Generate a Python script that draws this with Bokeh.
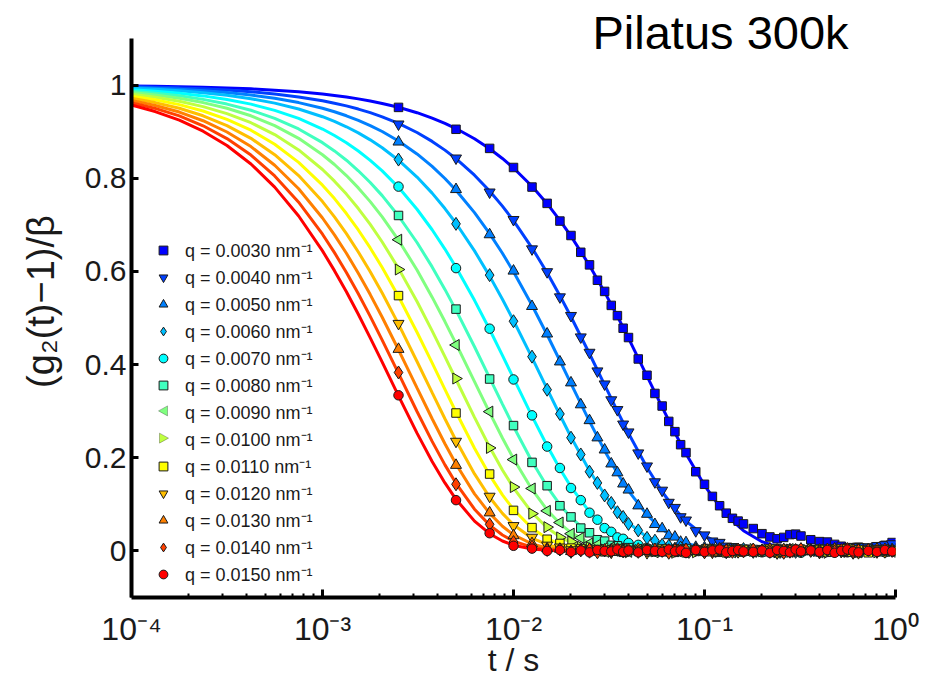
import math
from bokeh.plotting import figure
from bokeh.models import (Range1d, FixedTicker, NumeralTickFormatter, Label, Legend, LegendItem,
                          PolyAnnotation)
from bokeh.embed import file_html
from bokeh.resources import INLINE

# ---------------- data ----------------
q_labels = ["0.0030", "0.0040", "0.0050", "0.0060", "0.0070", "0.0080", "0.0090",
            "0.0100", "0.0110", "0.0120", "0.0130", "0.0140", "0.0150"]

# lag times of the measured points (s)
lag_t = [0.0025, 0.005, 0.0075, 0.01, 0.0125, 0.015, 0.0175, 0.02,
         0.0225, 0.025, 0.0275, 0.03, 0.0325, 0.035, 0.0375, 0.04,
         0.045, 0.05, 0.055, 0.06, 0.065, 0.07, 0.075, 0.08,
         0.09, 0.1, 0.11, 0.12, 0.13, 0.14, 0.15, 0.16,
         0.18, 0.2, 0.22, 0.24, 0.26, 0.28, 0.3, 0.32,
         0.36, 0.4, 0.44, 0.48, 0.52, 0.56, 0.6, 0.64,
         0.72, 0.8, 0.88, 0.96]

# times at which the fit curves were read (s)
fit_t = [0.0001, 0.000133, 0.000178, 0.000237, 0.000316, 0.000422, 0.000562, 0.00075,
         0.001, 0.001155, 0.001334, 0.00154, 0.001778, 0.002054, 0.0025, 0.003125,
         0.00375, 0.004375, 0.005, 0.00625, 0.0075, 0.00875, 0.01, 0.0125,
         0.015, 0.0175, 0.02, 0.025, 0.03, 0.035, 0.04, 0.05,
         0.06, 0.07, 0.08, 0.1, 0.12, 0.14, 0.16, 0.2,
         0.24, 0.28, 0.32, 0.4, 0.48, 0.64, 0.8, 1.0]

data_q0030 = [0.952, 0.905, 0.864, 0.823, 0.781, 0.746, 0.708, 0.677,
              0.641, 0.614, 0.581, 0.557, 0.527, 0.505, 0.478, 0.458,
              0.412, 0.377, 0.338, 0.311, 0.278, 0.256, 0.228, 0.211,
              0.170, 0.143, 0.117, 0.097, 0.081, 0.070, 0.064, 0.058,
              0.048, 0.037, 0.030, 0.026, 0.029, 0.035, 0.036, 0.032,
              0.024, 0.020, 0.019, 0.014, 0.010, 0.007, 0.006, 0.008,
              0.006, 0.009, 0.012, 0.018]
data_q0040 = [0.916, 0.843, 0.770, 0.711, 0.648, 0.599, 0.545, 0.505,
              0.459, 0.426, 0.386, 0.358, 0.324, 0.303, 0.272, 0.255,
              0.210, 0.182, 0.148, 0.130, 0.104, 0.093, 0.073, 0.066,
              0.043, 0.034, 0.021, 0.018, 0.010, 0.009, 0.004, 0.006,
              0.003, 0.005, 0.001, 0.004, 0.006, 0.002, 0.005, 0.003,
              0.004, 0.001, 0.006, 0.003, 0.002, 0.007, 0.004, 0.009,
              0.008, 0.011, 0.013, 0.015]
data_q0050 = [0.878, 0.776, 0.679, 0.601, 0.525, 0.466, 0.406, 0.361,
              0.314, 0.280, 0.243, 0.217, 0.187, 0.168, 0.144, 0.131,
              0.097, 0.079, 0.057, 0.048, 0.033, 0.030, 0.019, 0.018,
              0.008, 0.007, 0.002, 0.004, -0.002, 0.003, 0.001, -0.003,
              0.002, -0.001, 0.004, 0.000, -0.003, 0.003, 0.001, -0.002,
              0.002, -0.004, 0.001, 0.003, -0.002, 0.000, 0.004, -0.001,
              0.002, -0.003, 0.001, 0.003]
data_q0060 = [0.840, 0.702, 0.592, 0.493, 0.417, 0.346, 0.294, 0.243,
              0.207, 0.170, 0.146, 0.119, 0.103, 0.083, 0.073, 0.058,
              0.044, 0.028, 0.022, 0.013, 0.011, 0.005, 0.007, 0.002,
              0.004, -0.002, 0.001, 0.003, -0.003, 0.002, -0.001, 0.004,
              -0.002, 0.001, 0.003, -0.004, 0.002, 0.000, -0.002, 0.003,
              0.001, -0.003, 0.002, 0.004, -0.001, 0.002, -0.004, 0.001,
              0.003, -0.002, 0.000, 0.002]
data_q0070 = [0.782, 0.607, 0.477, 0.368, 0.291, 0.224, 0.178, 0.135,
              0.109, 0.082, 0.067, 0.049, 0.041, 0.029, 0.026, 0.017,
              0.013, 0.006, 0.005, 0.001, -0.002, 0.003, 0.000, -0.003,
              0.002, 0.004, -0.001, 0.001, -0.004, 0.002, 0.003, -0.002,
              0.001, -0.003, 0.002, 0.004, -0.001, 0.000, 0.003, -0.004,
              0.002, 0.000, -0.002, 0.003, 0.001, -0.003, 0.002, 0.004,
              -0.001, 0.002, -0.003, 0.001]
data_q0080 = [0.720, 0.519, 0.369, 0.269, 0.190, 0.140, 0.097, 0.073,
              0.049, 0.039, 0.024, 0.021, 0.012, 0.011, 0.005, 0.007,
              0.002, 0.004, -0.002, 0.003, 0.000, -0.003, 0.002, 0.005,
              -0.001, 0.002, 0.004, -0.003, 0.001, 0.003, -0.002, 0.000,
              0.003, -0.002, 0.001, 0.004, -0.004, 0.002, 0.000, -0.001,
              0.002, 0.004, -0.003, 0.001, 0.003, -0.001, 0.002, -0.004,
              0.001, 0.003, -0.002, 0.002]
data_q0090 = [0.668, 0.442, 0.299, 0.196, 0.134, 0.086, 0.061, 0.037,
              0.028, 0.016, 0.013, 0.006, 0.007, 0.001, 0.004, -0.002,
              0.003, 0.000, -0.003, 0.004, 0.002, -0.001, 0.003, -0.004,
              0.001, 0.003, -0.002, 0.000, 0.004, -0.003, 0.002, 0.001,
              -0.002, 0.003, 0.001, -0.004, 0.002, 0.004, -0.001, 0.002,
              0.000, -0.003, 0.003, 0.001, -0.002, 0.004, 0.001, -0.003,
              0.002, 0.000, 0.003, -0.002]
data_q0100 = [0.604, 0.370, 0.221, 0.137, 0.080, 0.051, 0.029, 0.020,
              0.009, 0.008, 0.002, 0.003, -0.002, 0.004, 0.001, -0.003,
              0.002, 0.004, -0.001, 0.000, 0.003, -0.004, 0.002, 0.001,
              -0.003, 0.002, 0.004, -0.001, 0.001, -0.002, 0.003, 0.000,
              0.004, -0.001, 0.002, -0.003, 0.000, 0.003, -0.002, 0.001,
              0.003, 0.000, -0.004, 0.002, 0.001, -0.001, 0.004, -0.002,
              0.001, -0.003, 0.002, 0.000]
data_q0110 = [0.548, 0.296, 0.165, 0.087, 0.050, 0.025, 0.016, 0.006,
              0.005, 0.001, 0.003, -0.002, 0.002, 0.004, -0.003, 0.001,
              -0.001, 0.003, 0.000, 0.004, -0.002, 0.001, 0.003, -0.004,
              0.002, -0.001, 0.003, 0.001, -0.004, 0.002, 0.000, 0.003,
              -0.002, 0.001, 0.004, -0.003, 0.002, 0.000, -0.001, 0.003,
              0.001, 0.003, -0.002, 0.000, 0.004, -0.003, 0.001, 0.002,
              -0.004, 0.002, 0.001, -0.001]
data_q0120 = [0.488, 0.235, 0.117, 0.054, 0.029, 0.012, 0.008, 0.002,
              0.003, -0.002, 0.004, 0.001, -0.003, 0.002, 0.000, 0.003,
              0.001, -0.004, 0.002, 0.003, -0.001, 0.000, 0.004, -0.002,
              0.003, 0.001, -0.003, 0.002, 0.000, 0.004, -0.002, 0.001,
              -0.001, 0.002, 0.003, -0.004, 0.001, -0.002, 0.004, 0.000,
              0.002, -0.003, 0.001, 0.003, -0.001, 0.002, 0.000, -0.004,
              0.003, 0.001, -0.002, 0.002]
data_q0130 = [0.433, 0.184, 0.082, 0.033, 0.016, 0.005, 0.004, -0.001,
              0.002, 0.004, -0.002, 0.001, 0.003, -0.003, 0.002, 0.000,
              0.004, -0.001, 0.001, -0.003, 0.002, 0.003, -0.002, 0.001,
              0.000, 0.003, -0.004, 0.002, 0.001, -0.001, 0.003, -0.002,
              0.002, 0.000, 0.004, -0.002, 0.003, 0.001, -0.003, 0.002,
              -0.001, 0.002, 0.000, 0.004, -0.003, 0.001, 0.002, -0.002,
              0.001, 0.004, -0.001, 0.000]
data_q0140 = [0.383, 0.143, 0.057, 0.019, 0.009, 0.002, 0.003, -0.002,
              0.001, 0.003, -0.003, 0.002, 0.000, 0.004, -0.001, 0.002,
              -0.002, 0.001, 0.003, 0.000, -0.004, 0.002, 0.001, 0.003,
              0.002, -0.003, 0.000, 0.004, 0.001, -0.002, 0.003, -0.001,
              0.003, 0.001, -0.002, 0.002, -0.004, 0.000, 0.002, 0.004,
              0.000, -0.002, 0.003, -0.001, 0.002, 0.004, -0.003, 0.001,
              0.002, -0.001, 0.003, 0.000]
data_q0150 = [0.334, 0.109, 0.038, 0.011, 0.005, 0.000, 0.002, -0.002,
              0.001, -0.003, 0.002, 0.000, -0.001, 0.003, -0.002, 0.001,
              -0.003, 0.002, 0.000, -0.002, 0.003, -0.001, 0.001, -0.004,
              0.002, -0.002, 0.001, 0.003, -0.003, 0.000, 0.002, -0.001,
              -0.002, 0.001, -0.004, 0.002, 0.000, -0.003, 0.003, -0.001,
              0.001, -0.002, 0.002, -0.004, 0.000, 0.003, -0.001, -0.003,
              0.000, -0.002, 0.002, -0.001]

fit_q0030 = [0.9980, 0.9974, 0.9965, 0.9954, 0.9938, 0.9918, 0.9890, 0.9854,
             0.9806, 0.9776, 0.9742, 0.9703, 0.9657, 0.9605, 0.9522, 0.9406,
             0.9291, 0.9178, 0.9066, 0.8847, 0.8633, 0.8424, 0.8220, 0.7827,
             0.7453, 0.7096, 0.6757, 0.6126, 0.5554, 0.5036, 0.4566, 0.3753,
             0.3085, 0.2536, 0.2085, 0.1409, 0.0952, 0.0643, 0.0434, 0.0198,
             0.0091, 0.0041, 0.0019, 0.0004, 0.0001, 0.0, 0.0, 0.0]
fit_q0040 = [0.9966, 0.9954, 0.9939, 0.9919, 0.9892, 0.9856, 0.9808, 0.9745,
             0.9662, 0.9610, 0.9552, 0.9484, 0.9407, 0.9318, 0.9176, 0.8981,
             0.8790, 0.8603, 0.8420, 0.8065, 0.7726, 0.7401, 0.7089, 0.6505,
             0.5969, 0.5477, 0.5026, 0.4232, 0.3563, 0.3000, 0.2526, 0.1791,
             0.1270, 0.0900, 0.0638, 0.0321, 0.0161, 0.0081, 0.0041, 0.0010,
             0.0003, 0.0001, 0.0, 0.0, 0.0, 0.0, 0.0, 0.0]
fit_q0050 = [0.9949, 0.9932, 0.9909, 0.9879, 0.9839, 0.9786, 0.9716, 0.9623,
             0.9501, 0.9426, 0.9340, 0.9242, 0.9130, 0.9002, 0.8799, 0.8521,
             0.8253, 0.7993, 0.7741, 0.7261, 0.6811, 0.6389, 0.5993, 0.5273,
             0.4640, 0.4082, 0.3592, 0.2780, 0.2152, 0.1666, 0.1290, 0.0773,
             0.0463, 0.0278, 0.0166, 0.0060, 0.0021, 0.0008, 0.0003, 0.0,
             0.0, 0.0, 0.0, 0.0, 0.0, 0.0, 0.0, 0.0]
fit_q0060 = [0.9930, 0.9907, 0.9876, 0.9834, 0.9780, 0.9707, 0.9612, 0.9486,
             0.9320, 0.9219, 0.9104, 0.8973, 0.8823, 0.8654, 0.8386, 0.8025,
             0.7680, 0.7349, 0.7033, 0.6440, 0.5898, 0.5401, 0.4946, 0.4148,
             0.3478, 0.2917, 0.2446, 0.1720, 0.1210, 0.0851, 0.0598, 0.0296,
             0.0146, 0.0072, 0.0036, 0.0009, 0.0002, 0.0, 0.0, 0.0,
             0.0, 0.0, 0.0, 0.0, 0.0, 0.0, 0.0, 0.0]
fit_q0070 = [0.9901, 0.9869, 0.9825, 0.9767, 0.9691, 0.9590, 0.9457, 0.9283,
             0.9056, 0.8917, 0.8761, 0.8583, 0.8383, 0.8157, 0.7804, 0.7334,
             0.6894, 0.6479, 0.6090, 0.5379, 0.4752, 0.4198, 0.3708, 0.2894,
             0.2258, 0.1762, 0.1375, 0.0837, 0.0510, 0.0311, 0.0189, 0.0070,
             0.0026, 0.0010, 0.0004, 0.0, 0.0, 0.0, 0.0, 0.0,
             0.0, 0.0, 0.0, 0.0, 0.0, 0.0, 0.0, 0.0]
fit_q0080 = [0.9869, 0.9826, 0.9768, 0.9692, 0.9591, 0.9459, 0.9285, 0.9057,
             0.8763, 0.8586, 0.8386, 0.8160, 0.7908, 0.7626, 0.7189, 0.6620,
             0.6096, 0.5613, 0.5169, 0.4382, 0.3716, 0.3151, 0.2671, 0.1920,
             0.1381, 0.0993, 0.0714, 0.0369, 0.0191, 0.0099, 0.0051, 0.0014,
             0.0004, 0.0, 0.0, 0.0, 0.0, 0.0, 0.0, 0.0,
             0.0, 0.0, 0.0, 0.0, 0.0, 0.0, 0.0, 0.0]
fit_q0090 = [0.9839, 0.9786, 0.9716, 0.9623, 0.9501, 0.9340, 0.9129, 0.8856,
             0.8504, 0.8294, 0.8057, 0.7792, 0.7497, 0.7170, 0.6670, 0.6028,
             0.5447, 0.4923, 0.4449, 0.3633, 0.2967, 0.2423, 0.1979, 0.1320,
             0.0880, 0.0587, 0.0392, 0.0174, 0.0078, 0.0035, 0.0015, 0.0003,
             0.0, 0.0, 0.0, 0.0, 0.0, 0.0, 0.0, 0.0,
             0.0, 0.0, 0.0, 0.0, 0.0, 0.0, 0.0, 0.0]
fit_q0100 = [0.9802, 0.9737, 0.9651, 0.9537, 0.9387, 0.9191, 0.8936, 0.8607,
             0.8187, 0.7937, 0.7659, 0.7349, 0.7007, 0.6631, 0.6065, 0.5353,
             0.4724, 0.4169, 0.3679, 0.2865, 0.2231, 0.1738, 0.1353, 0.0821,
             0.0498, 0.0302, 0.0183, 0.0067, 0.0025, 0.0009, 0.0003, 0.0,
             0.0, 0.0, 0.0, 0.0, 0.0, 0.0, 0.0, 0.0,
             0.0, 0.0, 0.0, 0.0, 0.0, 0.0, 0.0, 0.0]
fit_q0110 = [0.9761, 0.9683, 0.9579, 0.9442, 0.9263, 0.9030, 0.8728, 0.8340,
             0.7851, 0.7562, 0.7242, 0.6889, 0.6503, 0.6083, 0.5461, 0.4694,
             0.4035, 0.3469, 0.2982, 0.2203, 0.1628, 0.1203, 0.0889, 0.0486,
             0.0265, 0.0145, 0.0079, 0.0024, 0.0007, 0.0002, 0.0, 0.0,
             0.0, 0.0, 0.0, 0.0, 0.0, 0.0, 0.0, 0.0,
             0.0, 0.0, 0.0, 0.0, 0.0, 0.0, 0.0, 0.0]
fit_q0120 = [0.9716, 0.9623, 0.9501, 0.9340, 0.9129, 0.8856, 0.8505, 0.8057,
             0.7498, 0.7170, 0.6811, 0.6417, 0.5992, 0.5535, 0.4868, 0.4066,
             0.3396, 0.2837, 0.2369, 0.1653, 0.1153, 0.0805, 0.0561, 0.0273,
             0.0133, 0.0065, 0.0032, 0.0007, 0.0002, 0.0, 0.0, 0.0,
             0.0, 0.0, 0.0, 0.0, 0.0, 0.0, 0.0, 0.0,
             0.0, 0.0, 0.0, 0.0, 0.0, 0.0, 0.0, 0.0]
fit_q0130 = [0.9670, 0.9562, 0.9420, 0.9234, 0.8992, 0.8679, 0.8279, 0.7773,
             0.7146, 0.6784, 0.6389, 0.5961, 0.5502, 0.5015, 0.4317, 0.3499,
             0.2837, 0.2299, 0.1864, 0.1225, 0.0805, 0.0529, 0.0347, 0.0150,
             0.0065, 0.0028, 0.0012, 0.0002, 0.0, 0.0, 0.0, 0.0,
             0.0, 0.0, 0.0, 0.0, 0.0, 0.0, 0.0, 0.0,
             0.0, 0.0, 0.0, 0.0, 0.0, 0.0, 0.0, 0.0]
fit_q0140 = [0.9621, 0.9499, 0.9337, 0.9125, 0.8851, 0.8498, 0.8049, 0.7486,
             0.6798, 0.6403, 0.5977, 0.5519, 0.5034, 0.4526, 0.3810, 0.2993,
             0.2351, 0.1847, 0.1451, 0.0896, 0.0553, 0.0341, 0.0211, 0.0080,
             0.0031, 0.0012, 0.0004, 0.0, 0.0, 0.0, 0.0, 0.0,
             0.0, 0.0, 0.0, 0.0, 0.0, 0.0, 0.0, 0.0,
             0.0, 0.0, 0.0, 0.0, 0.0, 0.0, 0.0, 0.0]
fit_q0150 = [0.9570, 0.9431, 0.9248, 0.9009, 0.8701, 0.8306, 0.7808, 0.7189,
             0.6440, 0.6016, 0.5562, 0.5079, 0.4573, 0.4051, 0.3329, 0.2528,
             0.1920, 0.1459, 0.1108, 0.0639, 0.0369, 0.0213, 0.0123, 0.0041,
             0.0014, 0.0005, 0.0002, 0.0, 0.0, 0.0, 0.0, 0.0,
             0.0, 0.0, 0.0, 0.0, 0.0, 0.0, 0.0, 0.0,
             0.0, 0.0, 0.0, 0.0, 0.0, 0.0, 0.0, 0.0]

x_ticks = [1e-4, 1e-3, 1e-2, 1e-1, 1.0]
x_tick_labels = ["10\u207b\u2074", "10\u207b\u00b3", "10\u207b\u00b2", "10\u207b\u00b9", "10\u2070"]
y_ticks = [0, 0.2, 0.4, 0.6, 0.8, 1.0]

# ---------------- style ----------------
colors = ["#0000ff", "#0040ff", "#0080ff", "#00bfff", "#00ffff", "#40ffbf", "#80ff80",
          "#bfff40", "#ffff00", "#ffbf00", "#ff8000", "#ff4000", "#ff0000"]
markers = ["square", "inverted_triangle", "triangle", "diamond", "circle", "square", "triangle",
           "triangle", "square", "inverted_triangle", "triangle", "diamond", "circle"]
angles = [0, 0, 0, 0, 0, 0, math.pi / 2, -math.pi / 2, 0, 0, 0, 0, 0]
msize = {"square": 8.5, "inverted_triangle": 11, "triangle": 11, "diamond": 13, "circle": 9.5}

all_data = [data_q0030, data_q0040, data_q0050, data_q0060, data_q0070, data_q0080, data_q0090,
            data_q0100, data_q0110, data_q0120, data_q0130, data_q0140, data_q0150]
all_fit = [fit_q0030, fit_q0040, fit_q0050, fit_q0060, fit_q0070, fit_q0080, fit_q0090,
           fit_q0100, fit_q0110, fit_q0120, fit_q0130, fit_q0140, fit_q0150]

FONT = "Liberation Sans"
TXT = "#1a1a1a"

# axes box: x 131..895, y 38..598 of the picture (y axis drawn from -0.1 to 1.1);
# the frame reaches a little higher (to y=5) so the title inside it is not clipped.
Y_TOP = 1.1 + 33 / (560 / 1.2)
p = figure(width=929, height=680, x_axis_type="log",
           x_range=Range1d(1e-4, 1.0), y_range=Range1d(-0.1, Y_TOP),
           output_backend="svg", toolbar_location=None,
           min_border_left=131, min_border_right=34, min_border_top=5, min_border_bottom=82)
p.outline_line_color = None
p.xgrid.visible = False
p.ygrid.visible = False
p.background_fill_color = "white"
p.border_fill_color = "white"

xa = p.xaxis[0]
xa.ticker = FixedTicker(ticks=x_ticks,
                        minor_ticks=[m * 10.0 ** e for e in range(-4, 0) for m in range(2, 10)])
xa.major_label_overrides = dict(zip(x_ticks, x_tick_labels))
xa.major_label_text_font = FONT
xa.major_label_text_font_size = "32px"
xa.major_label_text_color = TXT
xa.major_label_standoff = 13
xa.axis_label = "t / s"
xa.axis_label_text_font = FONT
xa.axis_label_text_font_size = "32px"
xa.axis_label_text_font_style = "normal"
xa.axis_label_text_color = TXT
xa.axis_label_standoff = -8
xa.axis_line_width = 4
xa.axis_line_color = "black"
xa.major_tick_in = 8
xa.major_tick_out = 0
xa.major_tick_line_width = 3
xa.major_tick_line_color = "black"
xa.minor_tick_in = 4
xa.minor_tick_out = 0
xa.minor_tick_line_width = 2
xa.minor_tick_line_color = "black"

ya = p.yaxis[0]
ya.bounds = (-0.1, 1.1)
ya.ticker = FixedTicker(ticks=y_ticks)
ya.formatter = NumeralTickFormatter(format="0.[0]")
ya.axis_line_width = 4
ya.axis_line_color = "black"
ya.major_tick_in = 7
ya.major_tick_out = 0
ya.major_tick_line_width = 3
ya.major_tick_line_color = "black"
ya.minor_tick_line_color = None
ya.major_label_text_font = FONT
ya.major_label_text_font_size = "30px"
ya.major_label_text_color = TXT
ya.major_label_standoff = 5
ya.axis_label = "(g\u2082(t)\u22121)/\u03b2"
ya.axis_label_text_font = FONT
ya.axis_label_text_font_size = "38px"
ya.axis_label_text_font_style = "normal"
ya.axis_label_text_color = TXT
ya.axis_label_standoff = 20

# fit curves
for fy, c in zip(all_fit, colors):
    p.line(fit_t, fy, line_color=c, line_width=3)

# measured points
renderers = []
for dy, c, m, a in zip(all_data, colors, markers, angles):
    r = p.scatter(lag_t, dy, marker=m, size=msize[m], angle=a,
                  fill_color=c, line_color=TXT, line_width=1)
    renderers.append(r)

# ---------------- legend ----------------
# Bokeh's legend always draws markers unrotated, so the two sideways-triangle entries get an
# empty legend key, and their keys are drawn as small polygon annotations at the same spot.
LEG_X, LEG_Y, GLYPH, SPACING, ITEM_H = 21, 11, 22, 3, 24.25
blank = p.scatter(x=[], y=[], marker="square", size=1, fill_alpha=0, line_alpha=0)
items = []
for i, (q, r, a) in enumerate(zip(q_labels, renderers, angles)):
    items.append(LegendItem(label="q = %s nm\u207b\u00b9" % q, renderers=[blank if a else r]))
legend = Legend(items=items, location=(LEG_X, LEG_Y), orientation="vertical",
                glyph_width=GLYPH, glyph_height=GLYPH, spacing=SPACING, padding=0, margin=0,
                label_standoff=11, label_height=20,
                label_text_font=FONT, label_text_font_size="18px", label_text_color=TXT,
                border_line_color=None, background_fill_alpha=0)
p.add_layout(legend)

n_items = len(q_labels)
for i, (a, c) in enumerate(zip(angles, colors)):
    if not a:
        continue
    cx = LEG_X + GLYPH / 2
    cy = LEG_Y + (n_items - 1 - i) * (ITEM_H + SPACING) + ITEM_H / 2
    d = 1 if a > 0 else -1          # +1: pointing left, -1: pointing right
    xs = [cx - 5 * d, cx + 4 * d, cx + 4 * d]
    ys = [cy, cy + 5, cy - 5]
    p.add_layout(PolyAnnotation(xs=xs, ys=ys, xs_units="screen", ys_units="screen",
                                fill_color=c, fill_alpha=1.0, line_color=TXT, line_width=1))

# title (inside the plotting frame)
p.add_layout(Label(x=461, y=565, x_units="screen", y_units="screen", text="Pilatus 300k",
                   text_font=FONT, text_font_size="47px", text_color="black",
                   text_align="left", text_baseline="alphabetic"))

open("out.html", "w").write(file_html(p, INLINE))
